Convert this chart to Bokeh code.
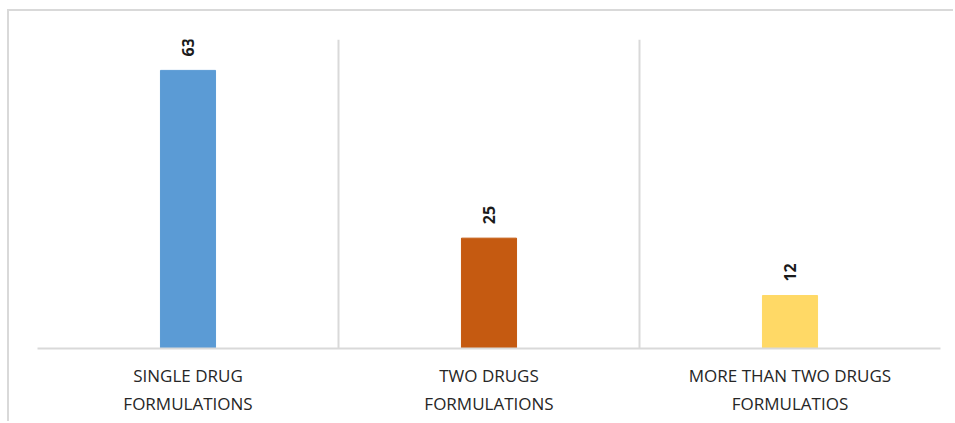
from bokeh.plotting import figure
from bokeh.models import Range1d, FixedTicker, ColumnDataSource
from bokeh.core.properties import value
from bokeh.embed import file_html
from bokeh.resources import INLINE
import math

categories = ["SINGLE DRUG\nFORMULATIONS", "TWO DRUGS\nFORMULATIONS", "MORE THAN TWO DRUGS\nFORMULATIOS"]
values = [63, 25, 12]
colors = ["#5B9BD5", "#C55A11", "#FFD966"]
value_labels = [str(v) for v in values]

n = len(categories)
xs = [i + 0.5 for i in range(n)]

p = figure(width=946, height=412, output_backend="svg", toolbar_location=None,
           x_range=Range1d(0, n), y_range=Range1d(0, 70),
           y_axis_location=None, min_border_left=28, min_border_top=28,
           min_border_right=15, min_border_bottom=75)
p.margin = (9, 0, 0, 7)
p.styles = {"border-top": "2px solid #d9d9d9", "border-left": "2px solid #d9d9d9"}
p.outline_line_color = None
p.background_fill_color = "white"
p.border_fill_color = "white"

src = ColumnDataSource(dict(x=xs, top=values, color=colors, label=value_labels))
p.vbar(x="x", top="top", bottom=0, width=0.183, color="color", source=src)
p.text(x="x", y="top", text="label", source=src, angle=math.pi / 2, y_offset=-14,
       text_align="left", text_baseline="middle", text_font_size="16px",
       text_font_style="bold", text_color="#1a1a1a", text_font=value("Open Sans"))

p.xgrid.ticker = FixedTicker(ticks=list(range(n + 1)))
p.xgrid.grid_line_color = "#d9d9d9"
p.xgrid.grid_line_width = 2
p.ygrid.grid_line_color = None

ax = p.xaxis[0]
ax.ticker = FixedTicker(ticks=xs)
ax.major_label_overrides = {x: c for x, c in zip(xs, categories)}
ax.axis_line_color = "#d9d9d9"
ax.axis_line_width = 2
ax.major_tick_line_color = None
ax.minor_tick_line_color = None
ax.major_label_text_font = "Open Sans"
ax.major_label_text_font_size = "17px"
ax.major_label_text_color = "#262626"
ax.major_label_text_line_height = 1.25
ax.major_label_standoff = 9

open("out.html", "w").write(file_html(p, INLINE))
